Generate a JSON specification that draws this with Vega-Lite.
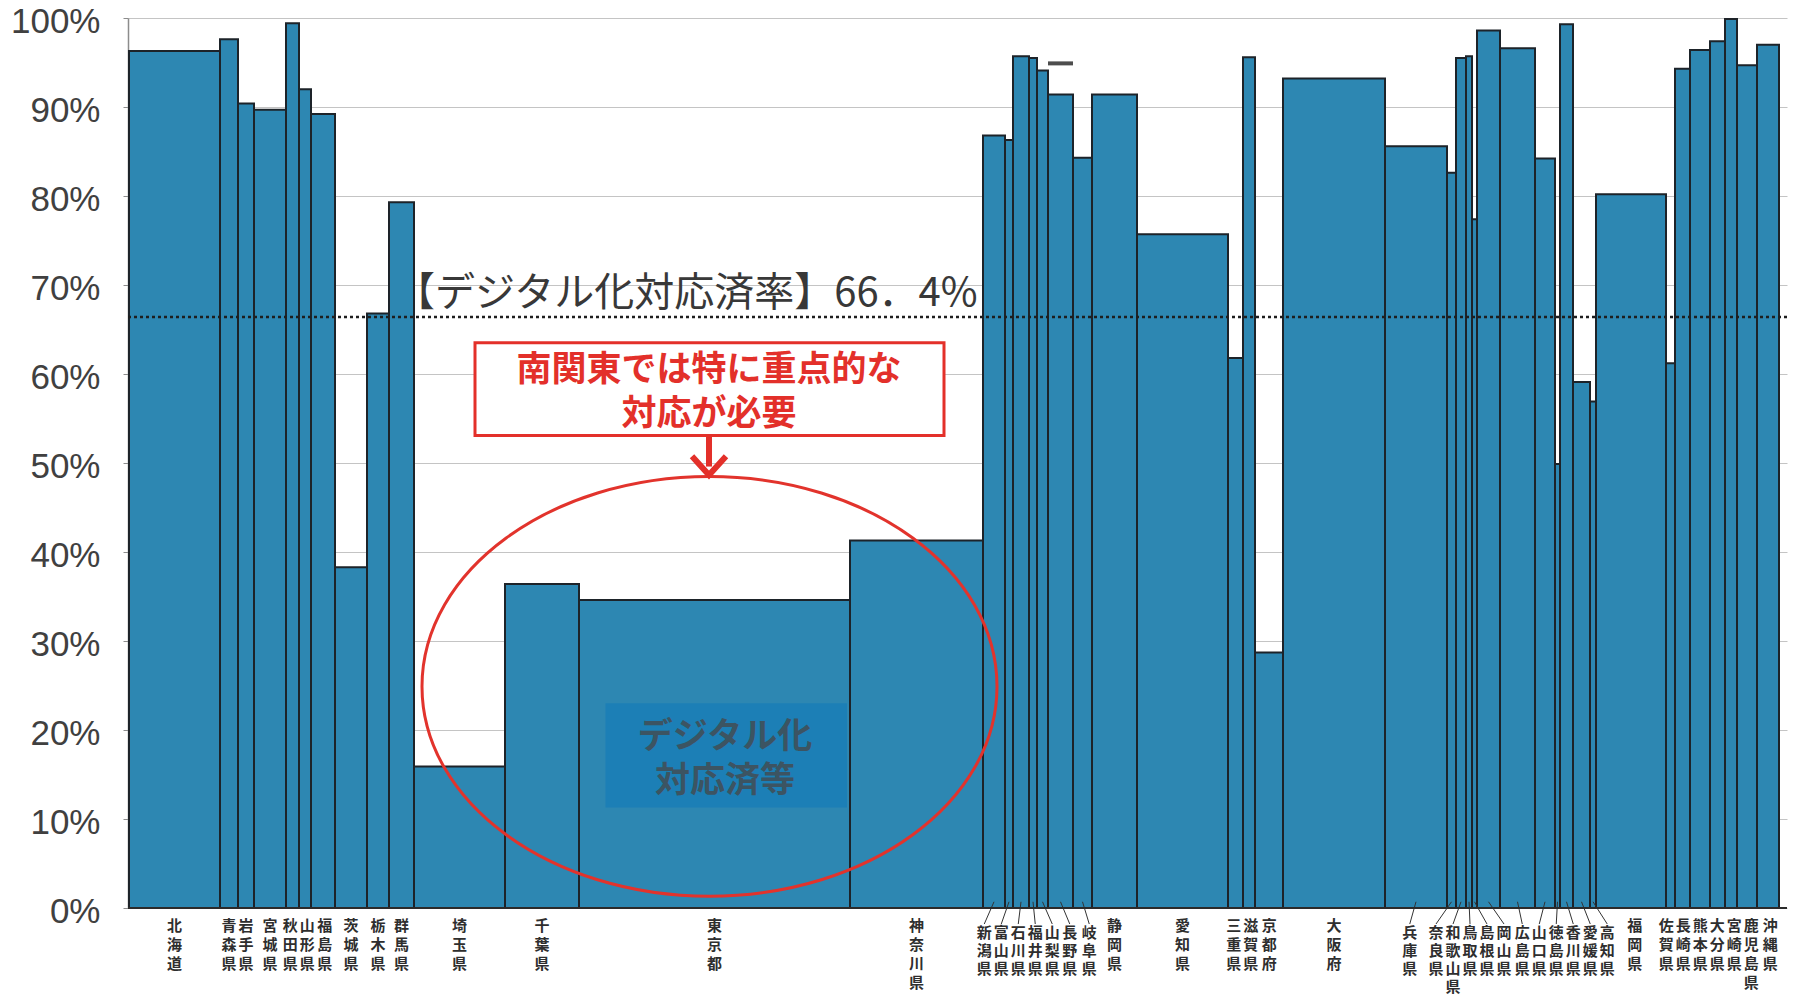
{
  "$schema": "https://vega.github.io/schema/vega-lite/v6.json",
  "width": 1659,
  "height": 890,
  "autosize": {"type": "none"},
  "padding": {"left": 128, "top": 18, "right": 22, "bottom": 87},
  "background": "#ffffff",
  "config": {"view": {"stroke": null}, "font": "Noto Sans CJK JP"},
  "layer": [
    {
      "data": {
        "values": [
          {"code": 1, "pref": "北海道", "count": 91, "rate": 96.3},
          {"code": 2, "pref": "青森県", "count": 18, "rate": 97.6},
          {"code": 3, "pref": "岩手県", "count": 16, "rate": 90.4},
          {"code": 4, "pref": "宮城県", "count": 32, "rate": 89.7},
          {"code": 5, "pref": "秋田県", "count": 13, "rate": 99.4},
          {"code": 6, "pref": "山形県", "count": 12, "rate": 92.0},
          {"code": 7, "pref": "福島県", "count": 24, "rate": 89.2},
          {"code": 8, "pref": "茨城県", "count": 32, "rate": 38.3},
          {"code": 9, "pref": "栃木県", "count": 22, "rate": 66.8},
          {"code": 10, "pref": "群馬県", "count": 25, "rate": 79.3},
          {"code": 11, "pref": "埼玉県", "count": 91, "rate": 15.9},
          {"code": 12, "pref": "千葉県", "count": 74, "rate": 36.4},
          {"code": 13, "pref": "東京都", "count": 271, "rate": 34.6},
          {"code": 14, "pref": "神奈川県", "count": 133, "rate": 41.3},
          {"code": 15, "pref": "新潟県", "count": 22, "rate": 86.8},
          {"code": 16, "pref": "富山県", "count": 8, "rate": 86.3},
          {"code": 17, "pref": "石川県", "count": 16, "rate": 95.7},
          {"code": 18, "pref": "福井県", "count": 8, "rate": 95.5},
          {"code": 19, "pref": "山梨県", "count": 11, "rate": 94.1},
          {"code": 20, "pref": "長野県", "count": 25, "rate": 91.4},
          {"code": 21, "pref": "岐阜県", "count": 19, "rate": 84.3},
          {"code": 22, "pref": "静岡県", "count": 45, "rate": 91.4},
          {"code": 23, "pref": "愛知県", "count": 91, "rate": 75.7},
          {"code": 24, "pref": "三重県", "count": 15, "rate": 61.8},
          {"code": 25, "pref": "滋賀県", "count": 12, "rate": 95.6},
          {"code": 26, "pref": "京都府", "count": 28, "rate": 28.7},
          {"code": 27, "pref": "大阪府", "count": 102, "rate": 93.2},
          {"code": 28, "pref": "兵庫県", "count": 62, "rate": 85.6},
          {"code": 29, "pref": "奈良県", "count": 9, "rate": 82.6},
          {"code": 30, "pref": "和歌山県", "count": 10, "rate": 95.5},
          {"code": 31, "pref": "鳥取県", "count": 6, "rate": 95.7},
          {"code": 32, "pref": "島根県", "count": 5, "rate": 77.4},
          {"code": 33, "pref": "岡山県", "count": 23, "rate": 98.6},
          {"code": 34, "pref": "広島県", "count": 35, "rate": 96.6},
          {"code": 35, "pref": "山口県", "count": 20, "rate": 84.2},
          {"code": 36, "pref": "徳島県", "count": 5, "rate": 49.9},
          {"code": 37, "pref": "香川県", "count": 13, "rate": 99.3},
          {"code": 38, "pref": "愛媛県", "count": 17, "rate": 59.1},
          {"code": 39, "pref": "高知県", "count": 6, "rate": 56.9},
          {"code": 40, "pref": "福岡県", "count": 70, "rate": 80.2},
          {"code": 41, "pref": "佐賀県", "count": 9, "rate": 61.2},
          {"code": 42, "pref": "長崎県", "count": 15, "rate": 94.3},
          {"code": 43, "pref": "熊本県", "count": 20, "rate": 96.4},
          {"code": 44, "pref": "大分県", "count": 15, "rate": 97.4},
          {"code": 45, "pref": "宮崎県", "count": 12, "rate": 99.9},
          {"code": 46, "pref": "鹿児島県", "count": 20, "rate": 94.7},
          {"code": 47, "pref": "沖縄県", "count": 22, "rate": 97.0}
        ]
      },
      "transform": [
        {"stack": "count", "groupby": [], "sort": [{"field": "code", "order": "ascending"}], "as": ["x0", "x1"]},
        {"calculate": "(datum.x0 + datum.x1) / 2", "as": "center"},
        {"calculate": "datum.center - datum.code * 17", "as": "pr"},
        {"window": [{"op": "max", "field": "pr", "as": "rmax"}], "sort": [{"field": "code", "order": "ascending"}], "frame": [null, 0]},
        {"window": [{"op": "min", "field": "pr", "as": "lmin"}], "sort": [{"field": "code", "order": "descending"}], "frame": [null, 0]},
        {"calculate": "datum.code * 17 + (datum.rmax + datum.lmin) / 2", "as": "lx"},
        {"calculate": "abs(datum.lx - datum.center) > 5 ? 1 : 0", "as": "moved"},
        {"window": [
          {"op": "lag", "field": "moved", "param": 1, "as": "mb1"},
          {"op": "lag", "field": "moved", "param": 2, "as": "mb2"},
          {"op": "lead", "field": "moved", "param": 1, "as": "ma1"},
          {"op": "lead", "field": "moved", "param": 2, "as": "ma2"}
        ], "sort": [{"field": "code", "order": "ascending"}]},
        {"calculate": "(datum.moved == 1 || ((datum.mb1 == 1 || datum.mb2 == 1) && (datum.ma1 == 1 || datum.ma2 == 1))) ? 1 : 0", "as": "callout"},
        {"calculate": "split(datum.pref, '')", "as": "vlabel"}
      ],
      "layer": [
        {
          "mark": {"type": "rect", "fill": "#2d87b2", "stroke": "#1d2329", "strokeWidth": 2},
          "encoding": {
            "x": {"field": "x0", "type": "quantitative", "scale": {"domain": [-1, 1658], "nice": false, "zero": false}, "axis": null},
            "x2": {"field": "x1"},
            "y": {
              "field": "rate", "type": "quantitative",
              "scale": {"domain": [0, 100], "nice": false, "zero": false},
              "axis": {
                "values": [0, 10, 20, 30, 40, 50, 60, 70, 80, 90, 100],
                "labelExpr": "datum.value + '%'",
                "title": null,
                "grid": true, "gridColor": "#c4c4c4", "gridWidth": 1,
                "domainColor": "#8c8c8c", "domainWidth": 1.5,
                "tickColor": "#8c8c8c", "tickSize": 5,
                "labelFont": "Liberation Sans", "labelFontSize": 35, "labelColor": "#404040",
                "labelPadding": 23, "labelOffset": 3
              }
            },
            "y2": {"datum": 0}
          }
        },
        {
          "transform": [{"filter": "datum.callout == 1"}],
          "mark": {"type": "rule", "color": "#333333", "strokeWidth": 1},
          "encoding": {
            "x": {"field": "center", "type": "quantitative", "scale": {"domain": [-1, 1658], "nice": false, "zero": false}, "axis": null},
            "x2": {"field": "lx"},
            "y": {"datum": 0.7, "type": "quantitative", "scale": {"domain": [0, 100], "nice": false, "zero": false}},
            "y2": {"datum": -1.8}
          }
        },
        {
          "transform": [{"filter": "datum.callout == 0"}],
          "mark": {"type": "text", "baseline": "top", "align": "center", "dy": 11, "fontSize": 15, "fontWeight": "bold", "lineHeight": 19, "color": "#2e2e2e"},
          "encoding": {
            "x": {"field": "lx", "type": "quantitative", "scale": {"domain": [-1, 1658], "nice": false, "zero": false}, "axis": null},
            "y": {"datum": 0, "type": "quantitative", "scale": {"domain": [0, 100], "nice": false, "zero": false}},
            "text": {"field": "vlabel", "type": "nominal"}
          }
        },
        {
          "transform": [{"filter": "datum.callout == 1"}],
          "mark": {"type": "text", "baseline": "top", "align": "center", "dy": 18, "fontSize": 15, "fontWeight": "bold", "lineHeight": 18, "color": "#2e2e2e"},
          "encoding": {
            "x": {"field": "lx", "type": "quantitative", "scale": {"domain": [-1, 1658], "nice": false, "zero": false}, "axis": null},
            "y": {"datum": 0, "type": "quantitative", "scale": {"domain": [0, 100], "nice": false, "zero": false}},
            "text": {"field": "vlabel", "type": "nominal"}
          }
        }
      ]
    },
    {
      "data": {"values": [{}]},
      "mark": {"type": "rule", "color": "#2b2b2b", "strokeWidth": 2},
      "encoding": {
        "y": {"datum": 0, "type": "quantitative", "scale": {"domain": [0, 100], "nice": false, "zero": false}}
      }
    },
    {
      "data": {"values": [{}]},
      "mark": {"type": "rule", "color": "#4d4d4d", "strokeWidth": 4},
      "encoding": {
        "x": {"datum": 919, "type": "quantitative", "scale": {"domain": [-1, 1658], "nice": false, "zero": false}, "axis": null},
        "x2": {"datum": 944},
        "y": {"datum": 94.9, "type": "quantitative", "scale": {"domain": [0, 100], "nice": false, "zero": false}}
      }
    },
    {
      "data": {"values": [{}]},
      "mark": {"type": "rect", "fill": "#1c7fb6"},
      "encoding": {
        "x": {"datum": 476.5, "type": "quantitative", "scale": {"domain": [-1, 1658], "nice": false, "zero": false}, "axis": null},
        "x2": {"datum": 718},
        "y": {"datum": 23.0, "type": "quantitative", "scale": {"domain": [0, 100], "nice": false, "zero": false}},
        "y2": {"datum": 11.3}
      }
    },
    {
      "data": {"values": [{}]},
      "mark": {"type": "text", "align": "center", "baseline": "middle", "fontSize": 35, "fontWeight": "bold", "lineHeight": 44, "color": "#3c5462", "text": ["デジタル化", "対応済等"]},
      "encoding": {
        "x": {"datum": 596, "type": "quantitative", "scale": {"domain": [-1, 1658], "nice": false, "zero": false}, "axis": null},
        "y": {"datum": 19.2, "type": "quantitative", "scale": {"domain": [0, 100], "nice": false, "zero": false}}
      }
    },
    {
      "data": {"values": [{}]},
      "mark": {"type": "point", "shape": "M-1,0C-1,-0.4032,-0.5523,-0.73,0,-0.73C0.5523,-0.73,1,-0.4032,1,0C1,0.4032,0.5523,0.73,0,0.73C-0.5523,0.73,-1,0.4032,-1,0Z", "size": 330625, "filled": false, "stroke": "#e2332c", "strokeWidth": 3, "opacity": 1},
      "encoding": {
        "x": {"datum": 580.5, "type": "quantitative", "scale": {"domain": [-1, 1658], "nice": false, "zero": false}, "axis": null},
        "y": {"datum": 24.9, "type": "quantitative", "scale": {"domain": [0, 100], "nice": false, "zero": false}}
      }
    },
    {
      "data": {"values": [{}]},
      "mark": {"type": "rule", "color": "#1e1e1e", "strokeWidth": 2.5, "strokeDash": [3, 3]},
      "encoding": {
        "y": {"datum": 66.4, "type": "quantitative", "scale": {"domain": [0, 100], "nice": false, "zero": false}}
      }
    },
    {
      "data": {"values": [{}]},
      "mark": {"type": "text", "align": "left", "baseline": "alphabetic", "dy": -11, "fontSize": 40, "color": "#383838", "text": "【デジタル化対応済率】66．4%"},
      "encoding": {
        "x": {"datum": 266, "type": "quantitative", "scale": {"domain": [-1, 1658], "nice": false, "zero": false}, "axis": null},
        "y": {"datum": 66.4, "type": "quantitative", "scale": {"domain": [0, 100], "nice": false, "zero": false}}
      }
    },
    {
      "data": {"values": [{}]},
      "mark": {"type": "rect", "fill": "#ffffff", "stroke": "#e3302a", "strokeWidth": 3},
      "encoding": {
        "x": {"datum": 346, "type": "quantitative", "scale": {"domain": [-1, 1658], "nice": false, "zero": false}, "axis": null},
        "x2": {"datum": 815},
        "y": {"datum": 63.5, "type": "quantitative", "scale": {"domain": [0, 100], "nice": false, "zero": false}},
        "y2": {"datum": 53.1}
      }
    },
    {
      "data": {"values": [{}]},
      "mark": {"type": "text", "align": "center", "baseline": "middle", "fontSize": 35, "fontWeight": "bold", "lineHeight": 44, "color": "#e3302a", "text": ["南関東では特に重点的な", "対応が必要"]},
      "encoding": {
        "x": {"datum": 580, "type": "quantitative", "scale": {"domain": [-1, 1658], "nice": false, "zero": false}, "axis": null},
        "y": {"datum": 60.4, "type": "quantitative", "scale": {"domain": [0, 100], "nice": false, "zero": false}}
      }
    },
    {
      "data": {"values": [{}]},
      "mark": {"type": "rule", "color": "#e3302a", "strokeWidth": 6},
      "encoding": {
        "x": {"datum": 580, "type": "quantitative", "scale": {"domain": [-1, 1658], "nice": false, "zero": false}, "axis": null},
        "y": {"datum": 53.1, "type": "quantitative", "scale": {"domain": [0, 100], "nice": false, "zero": false}},
        "y2": {"datum": 49.6}
      }
    },
    {
      "data": {"values": [{}]},
      "mark": {"type": "point", "shape": "M-1,-0.55L0,0.55L1,-0.55", "size": 1156, "filled": false, "stroke": "#e3302a", "strokeWidth": 6, "opacity": 1},
      "encoding": {
        "x": {"datum": 580, "type": "quantitative", "scale": {"domain": [-1, 1658], "nice": false, "zero": false}, "axis": null},
        "y": {"datum": 49.7, "type": "quantitative", "scale": {"domain": [0, 100], "nice": false, "zero": false}}
      }
    }
  ]
}
